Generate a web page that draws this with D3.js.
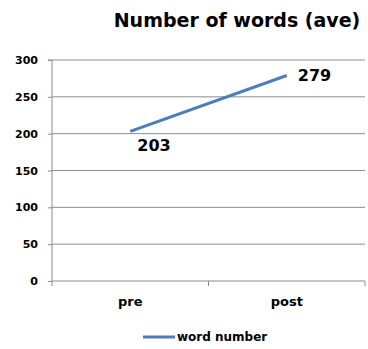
<!DOCTYPE html>
<html><head><meta charset="utf-8">
<script src="https://cdn.jsdelivr.net/npm/d3@7"></script>
<style>body{margin:0;background:#fff}svg{display:block}</style>
</head><body>
<script>
const categories = ["pre", "post"];
const values = [203, 279];
const seriesName = "word number";
const yTicks = [0, 50, 100, 150, 200, 250, 300];
const title = "Number of words (ave)";

(function () {
const W = 368, H = 349;
const svg = d3.select("body").append("svg").attr("width", W).attr("height", H);
const mL = 52, mR = 365, mT = 60, mB = 281;
const x = d3.scaleBand().domain(categories).range([mL, mR]);
const y = d3.scaleLinear().domain([0, 300]).range([mB, mT]);
const font = "'DejaVu Sans', sans-serif";

svg.append("text").attr("x", 237).attr("y", 27).attr("text-anchor", "middle")
  .attr("font-family", font).attr("font-weight", "bold").attr("font-size", 19)
  .attr("fill", "#000").text(title);

// gridlines
svg.append("g").selectAll("line").data(yTicks.filter(d => d > 0)).join("line")
  .attr("x1", mL).attr("x2", mR).attr("y1", d => y(d)).attr("y2", d => y(d))
  .attr("stroke", "#8c8c8c").attr("stroke-width", 1);

// y axis
const ya = svg.append("g").attr("transform", `translate(${mL},0)`)
  .call(d3.axisLeft(y).tickValues(yTicks).tickSize(4).tickPadding(10));
ya.select(".domain").attr("stroke", "#8c8c8c").attr("d", `M-4,${mT}H0V${mB}`);
ya.selectAll(".tick line").attr("stroke", "#8c8c8c");
ya.selectAll("text").attr("font-family", font).attr("font-weight", "bold").attr("font-size", 11).attr("fill", "#000");

// x axis
const xa = svg.append("g").attr("transform", `translate(0,${mB})`)
  .call(d3.axisBottom(x).tickSize(0).tickPadding(16));
xa.select(".domain").attr("stroke", "#8c8c8c").attr("d", `M${mL},0H${mR}`);
xa.selectAll("text").attr("font-family", font).attr("font-weight", "bold").attr("font-size", 13).attr("fill", "#000");
const bounds = [mL, mL + x.step(), mR];
svg.append("g").selectAll("line").data(bounds).join("line")
  .attr("x1", d => d).attr("x2", d => d).attr("y1", mB).attr("y2", mB + 5)
  .attr("stroke", "#8c8c8c");

// line
const data = categories.map((c, i) => ({c, v: values[i]}));
svg.append("path").datum(data)
  .attr("d", d3.line().x(d => x(d.c) + x.bandwidth() / 2).y(d => y(d.v)))
  .attr("fill", "none").attr("stroke", "#4a7ebb").attr("stroke-width", 3);

// data labels
const offsets = [{dx: 7, dy: 20}, {dx: 11, dy: 6}];
svg.append("g").selectAll("text").data(data).join("text")
  .attr("x", (d, i) => x(d.c) + x.bandwidth() / 2 + offsets[i].dx)
  .attr("y", (d, i) => y(d.v) + offsets[i].dy)
  .attr("font-family", font).attr("font-weight", "bold").attr("font-size", 16).attr("fill", "#000")
  .text(d => d.v);

// legend
svg.append("line").attr("x1", 143).attr("x2", 175).attr("y1", 337).attr("y2", 337)
  .attr("stroke", "#4a7ebb").attr("stroke-width", 3);
svg.append("text").attr("x", 177).attr("y", 341).attr("font-family", font)
  .attr("font-weight", "bold").attr("font-size", 12).attr("fill", "#000").text(seriesName);
})();
</script>
</body></html>
